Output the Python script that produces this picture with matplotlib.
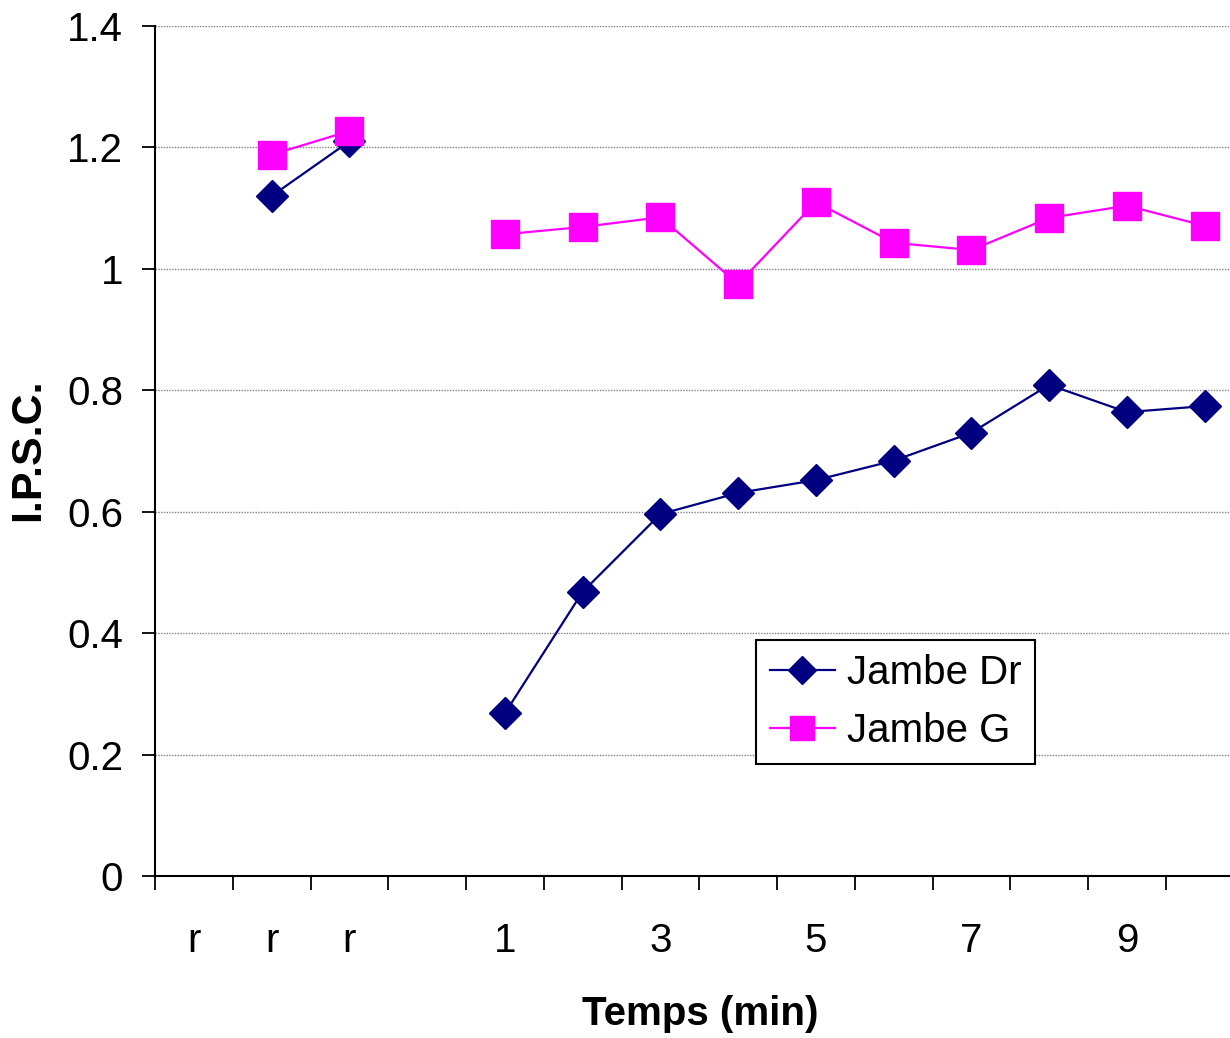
import matplotlib
matplotlib.use('Agg')
import matplotlib.pyplot as plt
import numpy as np

plt.rcParams['font.family'] = ['Liberation Sans', 'DejaVu Sans']

categories = ['r', 'r', 'r', '', '1', '2', '3', '4', '5', '6', '7', '8', '9', '10']
shown_labels = ['r', 'r', 'r', '', '1', '', '3', '', '5', '', '7', '', '9', '']
jambe_dr = [np.nan, 1.12, 1.21, np.nan, 0.268, 0.468, 0.596, 0.631, 0.652, 0.684, 0.730, 0.809, 0.764, 0.774]
jambe_g = [np.nan, 1.188, 1.227, np.nan, 1.057, 1.069, 1.085, 0.975, 1.110, 1.043, 1.031, 1.084, 1.104, 1.071]

x = np.arange(len(categories))

fig = plt.figure(figsize=(12.3, 10.38), dpi=100)
ax = fig.add_axes([155/1230, 1 - 876/1038, (1243.5 - 155)/1230, (876 - 26)/1038])

ax.plot(x, jambe_dr, color='#000080', marker='D', markersize=16.5, linewidth=1.6,
        label='Jambe Dr', zorder=3)
ax.plot(x, jambe_g, color='#FF00FF', marker='s', markersize=20, linewidth=1.6,
        label='Jambe G', zorder=3)

ax.set_xlim(-0.5, len(categories) - 0.5)
ax.set_ylim(0, 1.4)
ax.set_yticks(np.arange(0, 1.41, 0.2))
ax.set_yticklabels(['0', '0.2', '0.4', '0.6', '0.8', '1', '1.2', '1.4'])
ax.yaxis.grid(True, color='#808080', linewidth=1, linestyle=(0, (1, 1)))
ax.set_axisbelow(True)

ax.set_xticks(np.arange(-0.5, len(categories), 1))
ax.set_xticklabels([])
ax.set_xticks(x, minor=True)
ax.set_xticklabels(shown_labels, minor=True)
ax.tick_params(axis='x', which='major', direction='out', length=10, width=1.3)
ax.tick_params(axis='x', which='minor', length=0, pad=33, labelsize=29)
ax.tick_params(axis='y', direction='out', length=9.5, width=1.3, pad=13.5, labelsize=29)

for side in ['top', 'right']:
    ax.spines[side].set_visible(False)
for side in ['left', 'bottom']:
    ax.spines[side].set_linewidth(1.5)

fig.text(28/1230, 1 - 450/1038, 'I.P.S.C.', rotation=90, ha='center', va='center',
         fontsize=31, fontweight='bold')
fig.text(700/1230, 1 - 1014/1038, 'Temps (min)', ha='center', va='center',
         fontsize=29, fontweight='bold')

leg = ax.legend(loc='upper left', bbox_to_anchor=(756/1230, 1 - 640/1038),
                bbox_transform=fig.transFigure, fontsize=29, frameon=True,
                fancybox=False, framealpha=1, edgecolor='black',
                handlelength=1.6, borderpad=0.35, labelspacing=0.5, handletextpad=0.3,
                markerscale=0.85, borderaxespad=0)
leg.get_frame().set_linewidth(1.5)

fig.savefig('out.png', dpi=100)
